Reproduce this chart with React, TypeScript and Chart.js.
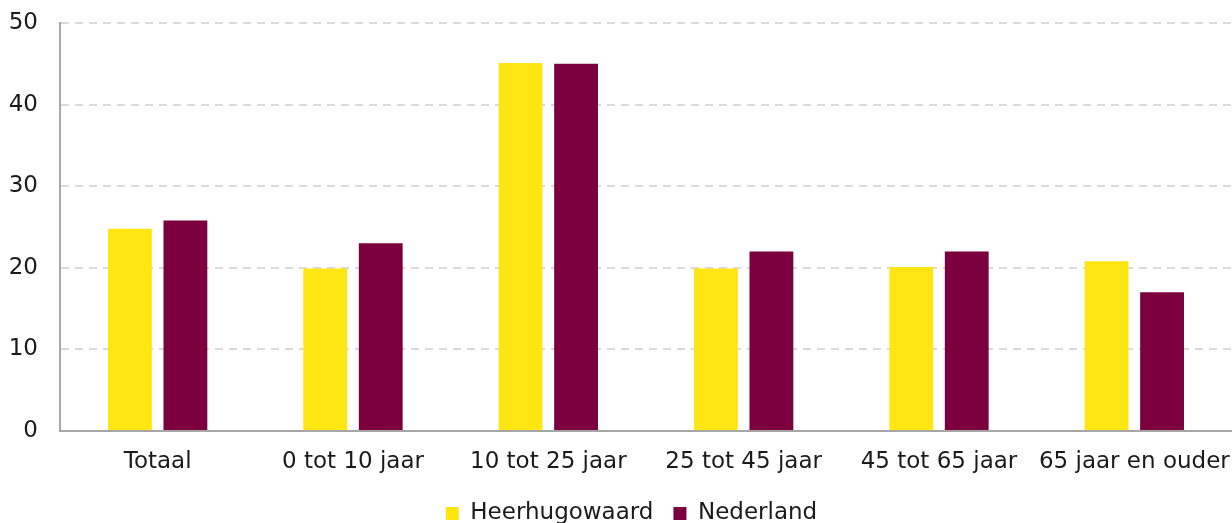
import React, { useEffect, useRef } from "react";
import { Chart, registerables } from "chart.js";

Chart.register(...registerables);

const categories = ["Totaal", "0 tot 10 jaar", "10 tot 25 jaar", "25 tot 45 jaar", "45 tot 65 jaar", "65 jaar en ouder"];
const heerhugowaard = [24.8, 19.9, 45.1, 19.9, 20.1, 20.8];
const nederland = [25.8, 23.0, 45.0, 22.0, 22.0, 17.0];
const seriesNames = ["Heerhugowaard", "Nederland"];
const yTicks = [0, 10, 20, 30, 40, 50];

const FONT = "'DejaVu Sans', sans-serif";
const FSIZE = 23;
const TEXT = "#1a1a1a";

const legendShift = {
  id: "legendShift",
  afterLayout(chart: any) {
    if (chart.legend) chart.legend.left += 22;
  },
};

export default function App() {
  const ref = useRef<HTMLCanvasElement | null>(null);
  useEffect(() => {
    if (!ref.current) return;
    const chart = new Chart(ref.current, {
      type: "bar",
      data: {
        labels: categories,
        datasets: [
          {
            label: seriesNames[0],
            data: heerhugowaard,
            backgroundColor: "#ffe512",
            categoryPercentage: 0.568,
            barPercentage: 0.79,
          },
          {
            label: seriesNames[1],
            data: nederland,
            backgroundColor: "#7b003d",
            categoryPercentage: 0.568,
            barPercentage: 0.79,
          },
        ],
      },
      options: {
        animation: false,
        responsive: true,
        maintainAspectRatio: false,
        layout: { padding: { left: 9, top: 23, right: 0, bottom: -12 } },
        plugins: {
          legend: {
            position: "bottom",
            labels: {
              boxWidth: 13,
              boxHeight: 13,
              padding: 20,
              color: TEXT,
              font: { family: FONT, size: FSIZE },
            },
          },
          tooltip: { enabled: false },
        },
        scales: {
          x: {
            grid: { display: true, drawOnChartArea: false, drawTicks: true, tickLength: 15, tickWidth: 0, color: "rgba(0,0,0,0)" },
            border: { display: true, color: "#a6a6a6", width: 2 },
            ticks: { color: TEXT, font: { family: FONT, size: FSIZE }, padding: 2, maxRotation: 0, autoSkip: false },
            afterFit: (axis: any) => {
              axis.height = 51;
            },
          },
          y: {
            min: 0,
            max: 50,
            afterBuildTicks: (axis: any) => {
              axis.ticks = yTicks.map((v) => ({ value: v }));
            },
            afterFit: (axis: any) => {
              axis.width = 51;
            },
            grid: { color: "#dadada", lineWidth: 2, drawTicks: true, tickLength: 20, tickWidth: 0 },
            border: { display: true, color: "#a6a6a6", width: 2, dash: [8, 6] },
            ticks: { color: TEXT, font: { family: FONT, size: FSIZE }, padding: 2 },
          },
        },
      },
      plugins: [legendShift],
    });
    return () => chart.destroy();
  }, []);
  return (
    <div style={{ position: "absolute", left: 0, top: 0, width: 1232, height: 523 }}>
      <canvas ref={ref} />
    </div>
  );
}
